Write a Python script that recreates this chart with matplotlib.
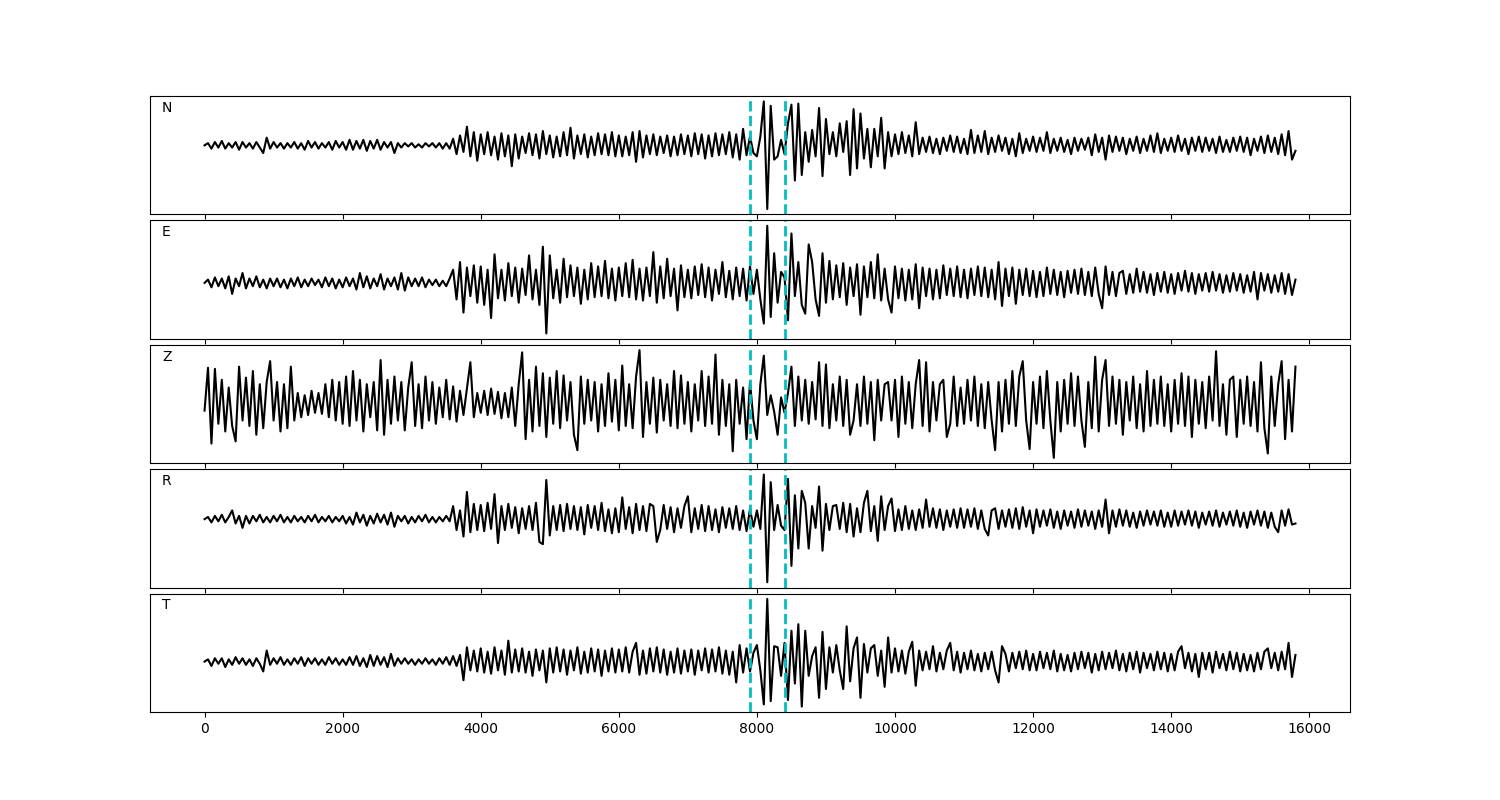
import numpy as np
import matplotlib
matplotlib.use("Agg")
import matplotlib.pyplot as plt

dt = 50
components = ["N", "E", "Z", "R", "T"]
picks = [7900, 8400]

# amplitudes, one value every dt samples
trace_n = [
    0, 2, -3, 3, -2, 4, -3, 2, -2, 3, -4, 3, -2, 2, -3, 3, -2, -7, 7, -3,
    3, -2, 2, -3, 2, -2, 3, -3, 2, -4, 4, -2, 3, -3, 2, -2, 3, -4, 4, -2,
    3, -4, 5, -4, 4, -3, 5, -5, 4, -3, 5, -4, 3, -2, 3, -7, 2, -2, 2, -1,
    2, -2, 1, -2, 2, -1, 2, -2, 2, -3, 2, -3, 6, -8, 9, -6, 17, -10, 12, -14,
    10, -8, 12, -9, 8, -13, 11, -10, 9, -19, 10, -12, 8, -7, 11, -9, 10, -12, 13, -8,
    9, -11, 8, -10, 12, -9, 16, -12, 9, -8, 10, -11, 8, -9, 11, -8, 10, -9, 12, -10,
    9, -10, 8, -9, 12, -15, 13, -11, 9, -8, 10, -9, 8, -7, 9, -10, 8, -9, 10, -8,
    9, -10, 11, -8, 10, -12, 9, -10, 11, -9, 10, -8, 12, -11, 10, -13, 15, -9, 8, -7,
    -10, 8, 40, -58, 36, -13, -10, 5, -8, 20, 37, -32, 38, -27, 12, -15, 14, -10, 34, -28,
    24, -8, 12, -10, 20, -6, 22, -27, 33, -21, 29, -12, 15, -20, 15, -10, 25, -21, 12, -10,
    10, -8, 12, -7, 9, -10, 21, -8, 7, -6, 8, -7, 6, -8, 7, -5, 9, -6, 8, -7,
    6, -8, 14, -7, 9, -6, 13, -8, 7, -6, 9, -5, 7, -8, 6, -10, 11, -7, 6, -5,
    8, -6, 7, -5, 12, -7, 6, -5, 7, -6, 5, -8, 7, -5, 6, -4, 7, -9, 10, -6,
    7, -13, 9, -6, 8, -5, 7, -8, 6, -5, 8, -7, 6, -5, 9, -6, 11, -7, 6, -5,
    7, -6, 9, -5, 6, -8, 7, -5, 8, -6, 7, -5, 6, -7, 8, -6, 5, -6, 7, -5,
    8, -6, 7, -9, 6, -5, 8, -7, 9, -6, 7, -8, 10, -9, 13, -13, -5,
]
trace_e = [
    0, 3, -4, 5, -3, 4, -5, 6, -10, 4, -3, 9, -5, 4, -3, 6, -4, 3, -5, 4,
    -3, 4, -4, 3, -5, 4, -3, 5, -4, 3, -3, 4, -2, 3, -4, 5, -3, 4, -5, 3,
    -4, 5, -3, 4, -6, 9, -4, 6, -5, 4, -3, 8, -6, 4, -3, 5, -6, 9, -7, 5,
    -3, 4, -3, 5, -4, 3, -2, 3, -3, 2, -3, 4, 12, -15, 19, -27, 14, -12, 16, -18,
    15, -20, 12, -32, 26, -14, 12, -16, 18, -12, 14, -18, 13, -11, 25, -15, 12, -20, 33, -46,
    25, -14, 12, -18, 22, -13, 16, -12, 14, -19, 12, -15, 18, -13, 15, -12, 20, -14, 13, -16,
    14, -12, 18, -13, 21, -15, 13, -16, 14, -12, 28, -18, 15, -14, 22, -12, 13, -25, 16, -13,
    12, -14, 15, -11, 17, -13, 14, -16, 12, -10, 19, -13, 11, -15, 14, -12, 13, -16, 15, -10,
    12, -15, -37, 52, -31, 27, -18, 10, 5, -34, 45, -12, 19, -20, -28, 35, 19, -15, -30, 27,
    -18, 20, -15, 16, -13, 18, -20, 14, -12, 17, -29, 15, -13, 19, -14, 26, -16, 13, -15, -27,
    15, -14, 13, -16, 12, -15, 17, -23, 14, -12, 13, -15, 12, -14, 16, -11, 13, -12, 15, -13,
    12, -14, 13, -11, 15, -12, 14, -13, 12, -15, 19, -21, 13, -12, 14, -19, 12, -11, 13, -12,
    11, -13, 10, -12, 14, -10, 12, -11, 10, -13, 11, -9, 12, -10, 13, -11, 10, -12, 14, -10,
    -23, 15, -11, 10, -12, 9, 11, -10, 8, -9, 13, -8, 10, -9, 8, -11, 9, -8, 10, -9,
    8, -10, 9, -7, 11, -8, 9, -10, 8, -7, 9, -8, 10, -7, 8, -9, 7, -8, 9, -7,
    8, -9, 7, -8, 10, -15, 9, -7, 8, -9, 7, -8, 9, -10, 8, -11, 3,
]
trace_z = [
    -6, 33, -36, 32, -18, 22, -25, 15, -20, -34, 34, -15, 24, -20, 30, -28, 18, -22, 20, 39,
    -15, 20, -25, 18, -22, 34, -15, 10, -12, 8, -10, 12, -8, 10, -9, 18, -12, 22, -15, 20,
    -18, 25, -20, 30, -15, 22, -25, 18, -12, 20, -24, 40, -28, 22, -18, 25, -15, 20, -24, 15,
    38, -20, 18, -22, 25, -15, 20, -18, 15, -12, 22, -14, 16, -16, 12, -10, 14, 38, -12, 10,
    -8, 12, -10, 14, -9, 11, -13, 10, -12, 15, -20, 18, 47, -32, 22, -25, 34, -20, 28, -30,
    24, -18, 30, -22, 26, -15, 20, -28, -42, 25, -18, 22, -15, 20, -25, 18, -20, 28, -16, 22,
    -24, 35, -20, 18, -22, 25, 49, -30, 20, -18, 24, -26, 22, -15, 18, -20, 30, -22, 26, -18,
    20, -25, 18, -15, 30, -20, 25, -18, 45, -28, 22, -20, 18, -43, 22, -18, 15, -32, 20, -15,
    -32, 18, 44, -10, 8, -7, -28, 6, -8, 10, 34, -20, 25, -15, 22, -18, 20, -14, 38, -20,
    36, -22, 18, -15, 25, -20, 22, -28, -15, 18, -20, 25, -18, 20, -33, 22, -15, 18, 20, -15,
    22, -30, 25, -18, 20, -22, 18, 40, -20, 38, -25, 20, -15, 18, 22, -30, -18, 25, -20, 15,
    -18, 22, -15, 25, -20, 18, -22, 20, -15, -42, 20, -25, 22, -18, 30, -20, 25, 39, -15, -41,
    20, -18, 25, -22, 30, -15, -49, 20, -25, 22, -18, 28, -20, 25, -15, -39, 20, -22, 43, -25,
    22, 40, -20, 25, -18, 22, -28, 20, -15, 25, -22, 18, -25, 30, -20, 22, -18, 25, -20, 18,
    -25, 22, -18, 28, -20, 25, -30, 22, -18, 20, -22, 25, -15, 48, -20, 18, -28, 22, 25, -30,
    22, -18, 25, -20, 20, -25, 38, -22, -45, 25, -20, 18, 39, -32, 22, -25, 34,
]
trace_r = [
    0, 2, -3, 3, -2, 4, -3, 2, 8, -4, 3, -8, 3, -4, 3, -2, 4, -3, 2, -3,
    3, -2, 4, -3, 2, -3, 3, -2, 2, -3, 3, -2, 4, -3, 2, -2, 3, -3, 2, -2,
    3, -4, 2, -5, 6, -3, 4, -6, 3, -4, 5, -3, 4, -5, 6, -7, 3, -2, 3, -4,
    2, -3, 3, -2, 4, -3, 2, -3, 2, -2, 3, -2, 12, -10, 8, -16, 25, -12, 14, -10,
    13, -11, 15, -9, 23, -22, 12, -10, 14, -8, 11, -13, 10, -9, 12, -10, 15, -21, -23, 36,
    -15, 12, -10, 13, -11, 14, -9, 12, -10, 11, -14, 13, -8, 12, -10, 15, -11, 9, -13, 10,
    -12, 20, -9, 11, -13, 14, -10, 12, -11, 14, 12, -21, -10, 13, -9, 11, -12, 10, -8, 12,
    21, -12, 10, -9, 13, -11, 12, -10, 9, -12, 11, -8, 10, -9, 12, -10, 8, -11, 9, -7,
    8, -9, 41, -58, 34, -10, 13, -6, -10, 37, -43, 22, -27, 26, 15, -27, 12, -8, 30, -29,
    14, -10, 12, 13, -9, 15, -12, 14, -16, 10, -12, 15, 26, -11, 12, -20, 21, -10, 12, 19,
    -11, 9, -10, 12, -9, 8, -10, 9, -8, 18, -7, 10, -8, 9, -10, 8, -7, 9, -8, 10,
    -8, 9, -7, 10, -9, 8, -9, -15, 8, 10, -9, 8, -7, 9, -8, 10, -9, 11, -7, 8,
    -13, 9, -7, 8, -6, 9, -8, 7, -9, 8, -6, 7, -8, 9, -7, 8, -6, 7, -9, 8,
    -7, 18, -13, 8, -7, 9, -6, 8, -7, 6, -8, 7, -6, 8, -5, 7, -6, 8, -7, 6,
    -7, 8, -6, 7, -5, 8, -6, 7, -8, 6, -5, 7, -6, 8, -7, 6, -5, 7, -6, 8,
    -7, 6, -8, 7, -5, 8, -6, 7, -8, 6, -7, -12, 8, -6, 9, -5, -4,
]
trace_t = [
    0, 2, -4, 3, -2, 3, -5, 2, -3, 4, -2, 3, -3, 2, -4, 3, -2, -9, 10, -3,
    3, -2, 4, -3, 2, -3, 3, -2, 4, -4, 3, -2, 3, -3, 2, -3, 4, -2, 3, -3,
    2, -3, 4, -3, 5, -4, 3, -5, 6, -4, 5, -3, 4, -5, 7, -4, 3, -2, 3, -2,
    2, -3, 2, -2, 3, -2, 2, -3, 3, -2, 4, -3, 5, -4, 6, -17, 13, -8, 10, -9,
    12, -10, 9, -11, 13, -8, 10, -12, 19, -10, 11, -9, 12, -10, 9, -13, 11, -8, 10, -19,
    12, -10, 13, -9, 11, -12, 10, -8, 13, -11, 9, -10, 12, -9, 11, -13, 10, -9, 12, -10,
    11, -9, 13, -10, 9, 17, -12, 10, -11, 12, -9, 13, -10, 11, -12, 9, -10, 12, -11, 10,
    -9, 11, -12, 10, -8, 12, -10, 11, -9, 13, -11, 10, -12, 9, -19, 15, -10, 12, -9, 8,
    15, -8, -39, 57, -36, 14, 13, -13, 17, -35, 28, -20, 34, -41, 28, -13, 5, 13, -33, 27,
    -25, 13, -10, 15, -8, -25, 32, -18, 12, 22, -33, 16, -10, 12, 15, -13, 10, -23, 22, -10,
    12, -9, 10, -11, 9, 18, -22, 10, -8, 9, -7, 14, -9, 8, -7, 10, 17, -8, 9, -10,
    8, -7, 10, -8, 7, -9, 8, -7, 9, -8, -19, 14, 7, -9, 8, -6, 9, -7, 10, -8,
    7, -8, 9, -6, 8, -7, 10, -9, 7, -8, 6, -9, 8, -7, 9, -6, 8, -10, 7, -8,
    9, -7, 8, -6, 10, -8, 7, -9, 8, -7, 9, -10, 8, -6, 7, -8, 9, -7, 8, -9,
    7, -8, 9, 14, -6, 8, -9, 7, -14, 8, -7, 8, -10, 9, -6, 7, -8, 9, -7, 8,
    -9, 7, -8, 6, -9, 8, -7, 9, 12, -6, 8, -8, 9, -7, 17, -14, 6,
]

traces = [trace_n, trace_e, trace_z, trace_r, trace_t]


def main():
    fig, axes = plt.subplots(5, 1, sharex=True, figsize=(15, 8), dpi=100)
    plt.subplots_adjust(left=0.1, right=0.9, top=0.88, bottom=0.11, hspace=0.05)

    for ax, name, vals in zip(axes, components, traces):
        x = np.arange(len(vals)) * dt
        ax.plot(x, vals, color="k", lw=1.5)
        for p in picks:
            ax.axvline(p, color="c", ls="--", lw=2)
        ax.set_yticks([])
        ax.text(0.01, 0.9, name, transform=ax.transAxes, ha="left", va="center", fontsize=10)

    fig.savefig("out.png")


if __name__ == "__main__":
    main()
